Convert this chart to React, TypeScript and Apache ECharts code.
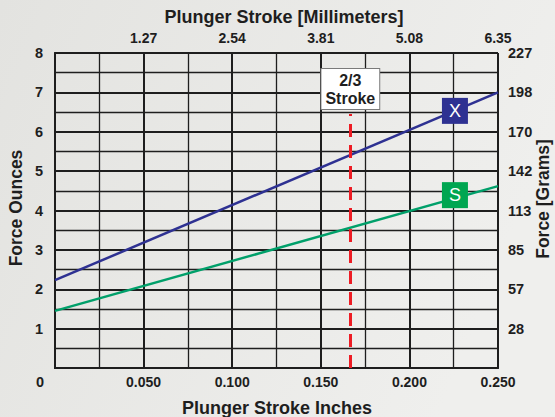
import React, { useEffect, useRef } from "react";
import * as echarts from "echarts";

const strokeInches = [0, 0.25];
const forceX = [2.23, 7.0];
const forceS = [1.45, 4.62];
const markerX = [0.2257, 6.53];
const markerS = [0.2257, 4.39];
const twoThirdStroke = 0.25 * (2 / 3);
const twoThirdTop = 6.45;
const gramsPerOunce = 28.35;
const mmPerInch = 25.4;

const FONT = "'Liberation Sans', Arial, sans-serif";
const INK = "#1e1e1e";

export default function App() {
  const ref = useRef<HTMLDivElement>(null);
  useEffect(() => {
    if (!ref.current) return;
    const chart = echarts.init(ref.current, undefined, { renderer: "svg" });
    const tickLabel = { fontFamily: FONT, fontWeight: "bold", fontSize: 14, color: INK };
    const majorSplit = { show: true, lineStyle: { color: INK, width: 2 } };
    const minorSplit = { show: true, lineStyle: { color: INK, width: 1.3 } };
    const axisLine = { show: true, lineStyle: { color: INK, width: 2 } };
    const xBase = {
      type: "value",
      min: 0,
      max: 0.25,
      interval: 0.05,
      axisTick: { show: false },
      axisLine,
      minorTick: { show: false, splitNumber: 2 },
    };
    const yBase = {
      type: "value",
      min: 0,
      max: 8,
      interval: 1,
      axisTick: { show: false },
      axisLine,
      minorTick: { show: false, splitNumber: 2 },
    };
    chart.setOption({
      animation: false,
      backgroundColor: {
        type: "linear",
        x: 0,
        y: 0,
        x2: 1,
        y2: 0.3,
        colorStops: [
          { offset: 0, color: "#e3e3e0" },
          { offset: 1, color: "#efefed" },
        ],
      },
      grid: { left: 55, right: 57, top: 53, bottom: 49, containLabel: false },
      xAxis: [
        {
          ...xBase,
          position: "bottom",
          splitLine: majorSplit,
          minorSplitLine: minorSplit,
          axisLabel: {
            ...tickLabel,
            margin: 7,
            formatter: (v: number) => (v === 0 ? "" : v.toFixed(3)),
          },
        },
        {
          ...xBase,
          position: "top",
          splitLine: { show: false },
          axisLabel: {
            ...tickLabel,
            margin: 8,
            formatter: (v: number) => (v === 0 ? "" : (v * mmPerInch).toFixed(2)),
          },
        },
      ],
      yAxis: [
        {
          ...yBase,
          position: "left",
          splitLine: majorSplit,
          minorSplitLine: minorSplit,
          axisLabel: {
            ...tickLabel,
            fontSize: 14.5,
            margin: 12,
            formatter: (v: number) => (v === 0 ? "" : String(v)),
          },
        },
        {
          ...yBase,
          position: "right",
          splitLine: { show: false },
          axisLabel: {
            ...tickLabel,
            fontSize: 14.5,
            margin: 10,
            formatter: (v: number) => (v === 0 ? "" : String(Math.round(v * gramsPerOunce))),
          },
        },
      ],
      series: [
        {
          name: "X",
          type: "line",
          data: strokeInches.map((x, i) => [x, forceX[i]]),
          symbol: "none",
          lineStyle: { color: "#2e3192", width: 2.5 },
          z: 3,
        },
        {
          name: "S",
          type: "line",
          data: strokeInches.map((x, i) => [x, forceS[i]]),
          symbol: "none",
          lineStyle: { color: "#00a06a", width: 2.5 },
          z: 3,
        },
        {
          name: "stroke",
          type: "line",
          data: [],
          z: 4,
          markLine: {
            silent: true,
            symbol: "none",
            lineStyle: { color: "#ed1c24", width: 3, type: [13, 8] },
            label: {
              show: true,
              position: "end",
              distance: 5,
              formatter: "2/3\nStroke",
              fontFamily: FONT,
              fontWeight: "bold",
              fontSize: 16,
              lineHeight: 18,
              color: INK,
              backgroundColor: "#ffffff",
              borderColor: "#7a7a7a",
              borderWidth: 1,
              padding: [2, 4, 2, 4],
            },
            data: [[{ coord: [twoThirdStroke, 0] }, { coord: [twoThirdStroke, twoThirdTop] }]],
          },
        },
        {
          name: "markers",
          type: "scatter",
          z: 5,
          symbol: "rect",
          symbolSize: 26,
          itemStyle: { opacity: 1 },
          data: [
            { value: markerX, itemStyle: { color: "#2e3192", opacity: 1 }, label: { formatter: "X" } },
            { value: markerS, itemStyle: { color: "#00a651", opacity: 1 }, label: { formatter: "S" } },
          ],
          label: {
            show: true,
            position: "inside",
            color: "#ffffff",
            fontFamily: FONT,
            fontSize: 18,
          },
        },
      ],
      graphic: [
        {
          type: "text",
          left: 36,
          top: 374,
          style: { text: "0", font: `bold 14.5px ${FONT}`, fill: INK },
        },
        {
          type: "text",
          x: 284,
          y: 17,
          style: {
            text: "Plunger Stroke [Millimeters]",
            font: `bold 18px ${FONT}`,
            fill: INK,
            align: "center",
            verticalAlign: "middle",
          },
        },
        {
          type: "text",
          x: 277,
          y: 408,
          style: {
            text: "Plunger Stroke Inches",
            font: `bold 18px ${FONT}`,
            fill: INK,
            align: "center",
            verticalAlign: "middle",
          },
        },
        {
          type: "text",
          x: 16,
          y: 208,
          rotation: Math.PI / 2,
          style: {
            text: "Force Ounces",
            font: `bold 17.5px ${FONT}`,
            fill: INK,
            align: "center",
            verticalAlign: "middle",
          },
        },
        {
          type: "text",
          x: 543,
          y: 199,
          rotation: Math.PI / 2,
          style: {
            text: "Force [Grams]",
            font: `bold 17.5px ${FONT}`,
            fill: INK,
            align: "center",
            verticalAlign: "middle",
          },
        },
      ],
    });
    return () => chart.dispose();
  }, []);
  return (
    <div
      ref={ref}
      style={{ position: "fixed", left: 0, top: 0, width: 555, height: 417 }}
    />
  );
}
